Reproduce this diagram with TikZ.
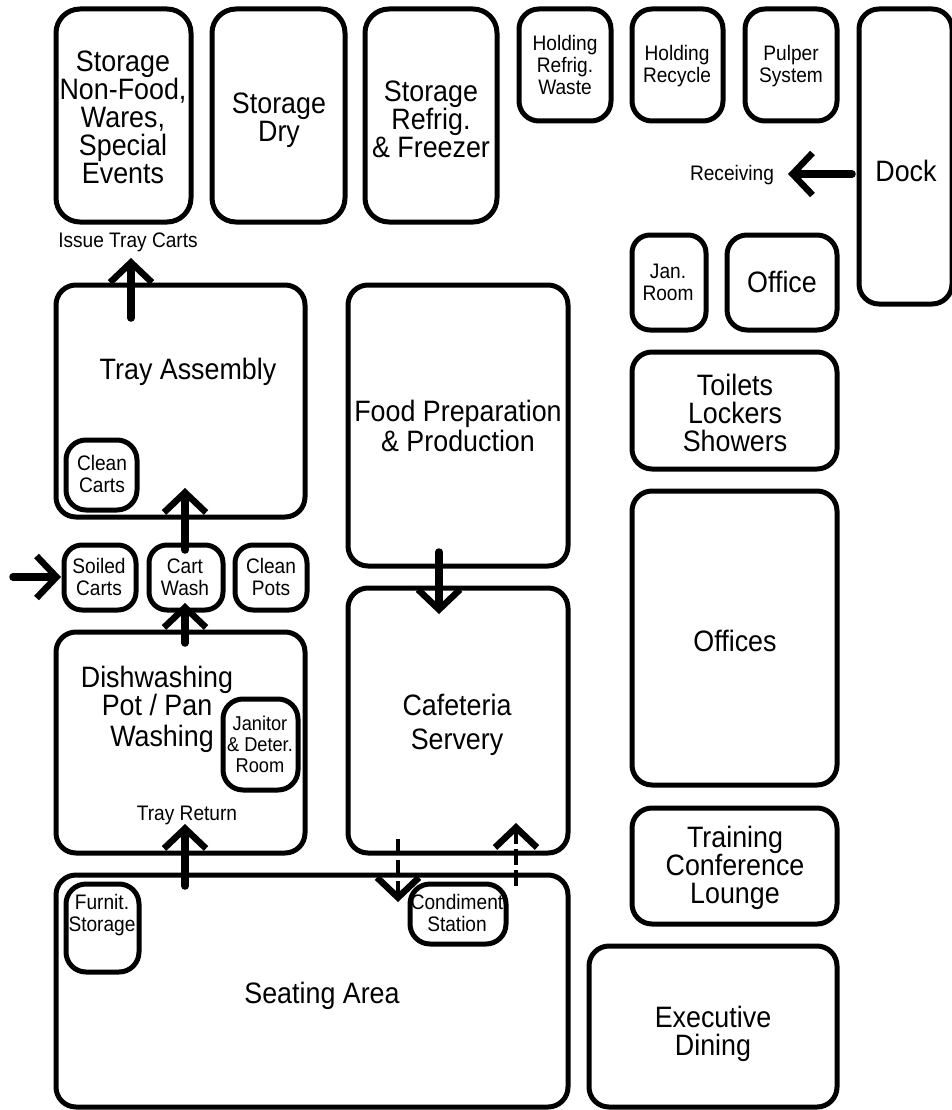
\documentclass[tikz,border=0pt]{standalone}
\usepackage{fontspec}
\setmainfont[FakeStretch=0.91]{Liberation Sans}
\usetikzlibrary{arrows.meta}
\newcommand{\bx}[6]{\node[roombox,rounded corners=#6,minimum width=#3pt-#1pt,minimum height=#4pt-#2pt] (#5) at ({(#1+#3)/2},{(#2+#4)/2}) {};}
\tikzset{
 x=1pt,y=-1pt,
 roombox/.style={draw=black,line width=5pt,fill=none,inner sep=0pt,outer sep=0pt},
 lab/.style={align=center,inner sep=0pt,font=\fontsize{#1}{22}\selectfont},
 biglab/.style={align=center,inner sep=0pt,font=\fontsize{29.5}{28}\selectfont},
 bigarrow/.style={line width=7.5pt,line cap=round,-{Straight Barb[length=20pt,width=42pt,line width=6.5pt]}},
 thinarrow/.style={line width=3.2pt,dash pattern=on 16pt off 5pt,-{Straight Barb[length=20pt,width=42pt,line width=6.5pt]}},
}
\begin{document}
\begin{tikzpicture}
\useasboundingbox (0,0) rectangle (951,1110);
\bx{56}{9}{191}{222}{a1}{24pt}
\bx{212}{9}{345}{222}{a2}{24pt}
\bx{365}{9}{497}{222}{a3}{24pt}
\bx{519}{9}{611}{121}{a4}{20pt}
\bx{632}{9}{723}{121}{a5}{20pt}
\bx{745}{9}{837}{121}{a6}{20pt}
\bx{859}{9}{952}{304}{dock}{20pt}
\bx{632}{235}{706}{330}{jan}{18pt}
\bx{727}{235}{837}{330}{off}{20pt}
\bx{56}{285}{305}{517}{tray}{20pt}
\bx{348}{285}{568}{566}{food}{20pt}
\bx{632}{352}{837}{469}{toil}{20pt}
\bx{632}{491}{837}{785}{offices}{20pt}
\bx{632}{808}{837}{924}{train}{20pt}
\bx{589}{946}{837}{1107}{exec}{20pt}
\bx{66}{440}{137}{510}{clean}{20pt}
\bx{64}{545}{136}{610}{soiled}{18pt}
\bx{149}{545}{223}{610}{cart}{18pt}
\bx{235}{545}{307}{610}{pots}{18pt}
\bx{56}{632}{305}{853}{dish}{20pt}
\bx{348}{588}{568}{853}{caf}{20pt}
\bx{223}{699}{298}{790}{jani}{20pt}
\bx{56}{875}{568}{1107}{seat}{20pt}
\bx{66}{884}{139}{972}{furn}{20pt}
\bx{410}{884}{506}{944}{cond}{20pt}
\node[biglab] at (123,117) {Storage\\Non-Food,\\Wares,\\Special\\Events};
\node[biglab] at (279,120) {Storage\\Dry};
\node[biglab] at (431,119) {Storage\\Refrig.\\\&~Freezer};
\node[lab=21] at (565,65) {Holding\\Refrig.\\Waste};
\node[lab=21] at (677,66) {Holding\\Recycle};
\node[lab=21] at (791,66) {Pulper\\System};
\node[biglab] at (906,171) {Dock};
\node[lab=21] (rec) at (732,175) {Receiving};
\node[lab=21] at (668,282) {Jan.\\Room};
\node[biglab] at (782,282) {Office};
\node[lab=21] (iss) at (128,242) {Issue Tray Carts};
\node[biglab] at (188,372) {Tray Assembly};
\node[biglab] at (458,426) {Food Preparation\\[2pt]\&~Production};
\node[biglab] at (735,413) {Toilets\\Lockers\\Showers};
\node[biglab] at (735,641) {Offices};
\node[biglab] at (735,868) {Training\\Conference\\Lounge};
\node[biglab] at (713,1034) {Executive\\Dining};
\node[lab=21] at (102,474) {Clean\\Carts};
\node[lab=21] at (99,577) {Soiled\\Carts};
\node[lab=21] at (185,577) {Cart\\Wash};
\node[lab=21] at (271,577) {Clean\\Pots};
\node[biglab] at (157,691) {Dishwashing\\Pot / Pan};
\node[biglab] at (162,739) {Washing};
\node[lab=20] at (260,744) {Janitor\\[-1pt]\&~Deter.\\[-1pt]Room};
\node[lab=21] (tr) at (187,815) {Tray Return};
\node[biglab] at (457,725) {Cafeteria\\[6pt]Servery};
\node[lab=21] at (102,915) {Furnit.\\Storage};
\node[lab=21] at (457,913) {Condiment\\Station};
\node[biglab] at (322,996) {Seating Area};
\coordinate (s1) at (131,318);\coordinate (e1) at (131,258);
\draw[bigarrow] (s1) -- (e1);
\coordinate (s2) at (852,174);\coordinate (e2) at (788,174);
\draw[bigarrow] (s2) -- (e2);
\coordinate (s3) at (13,577);\coordinate (e3) at (61,577);
\draw[bigarrow] (s3) -- (e3);
\coordinate (s4) at (185,550);\coordinate (e4) at (185,488);
\draw[bigarrow] (s4) -- (e4);
\coordinate (s5) at (185,643);\coordinate (e5) at (185,603);
\draw[bigarrow] (s5) -- (e5);
\coordinate (s6) at (185,886);\coordinate (e6) at (185,824);
\draw[bigarrow] (s6) -- (e6);
\coordinate (s7) at (439,552);\coordinate (e7) at (439,614);
\draw[bigarrow] (s7) -- (e7);
\coordinate (s8) at (398,839);\coordinate (e8) at (398,902);
\draw[thinarrow] (s8) -- (e8);
\coordinate (s9) at (516,886);\coordinate (e9) at (516,823);
\draw[thinarrow] (s9) -- (e9);
\end{tikzpicture}
\end{document}
